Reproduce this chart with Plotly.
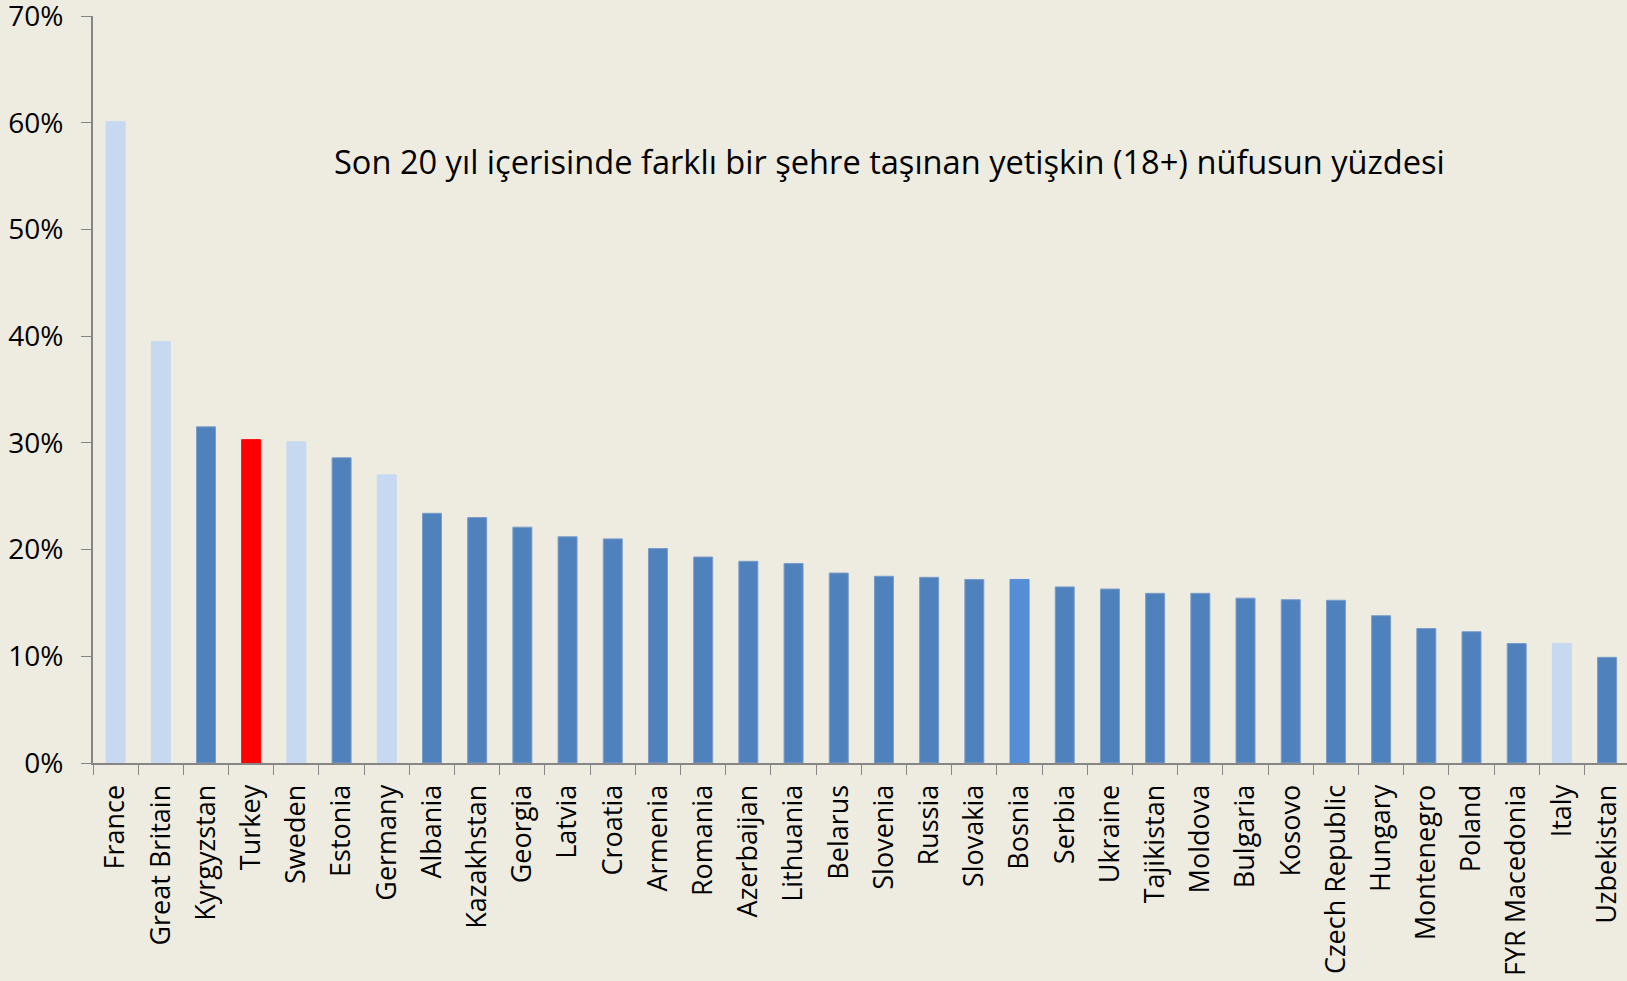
import plotly.graph_objects as go

countries = ["France", "Great Britain", "Kyrgyzstan", "Turkey", "Sweden", "Estonia", "Germany",
             "Albania", "Kazakhstan", "Georgia", "Latvia", "Croatia", "Armenia", "Romania",
             "Azerbaijan", "Lithuania", "Belarus", "Slovenia", "Russia", "Slovakia", "Bosnia",
             "Serbia", "Ukraine", "Tajikistan", "Moldova", "Bulgaria", "Kosovo", "Czech Republic",
             "Hungary", "Montenegro", "Poland", "FYR Macedonia", "Italy", "Uzbekistan"]
values = [60.1, 39.5, 31.5, 30.3, 30.1, 28.6, 27.0,
          23.4, 23.0, 22.1, 21.2, 21.0, 20.1, 19.3,
          18.9, 18.7, 17.8, 17.5, 17.4, 17.2, 17.2,
          16.5, 16.3, 15.9, 15.9, 15.45, 15.3, 15.25,
          13.8, 12.6, 12.3, 11.2, 11.2, 9.9]
# group of each bar: "west" (light), "east" (dark), "turkey" (red), "bosnia"
groups = ["west", "west", "east", "turkey", "west", "east", "west",
          "east", "east", "east", "east", "east", "east", "east",
          "east", "east", "east", "east", "east", "east", "bosnia",
          "east", "east", "east", "east", "east", "east", "east",
          "east", "east", "east", "east", "west", "east"]
y_ticks = [0, 10, 20, 30, 40, 50, 60, 70]
y_tick_labels = ["0%", "10%", "20%", "30%", "40%", "50%", "60%", "70%"]
title_text = "Son 20 yıl içerisinde farklı bir şehre taşınan yetişkin (18+) nüfusun yüzdesi"

palette = {"west": "#C6D9F0", "east": "#4F81BD", "turkey": "#FF0000", "bosnia": "#558ED5"}
outline = {"west": "#C6D9F0", "east": "#7A9CC8", "turkey": "#FF0000", "bosnia": "#558ED5"}

fig = go.Figure(go.Bar(
    x=countries, y=values,
    marker=dict(color=[palette[g] for g in groups],
                line=dict(color=[outline[g] for g in groups], width=1)),
    width=0.42,
))

W, H = 1627, 981
ML, MT, MB = 93, 16, 218
plot_w = W - ML
plot_h = H - MT - MB

font_family = "Open Sans"
fig.update_layout(
    width=W, height=H,
    margin=dict(l=ML, r=0, t=MT, b=MB),
    paper_bgcolor="#EEECE1", plot_bgcolor="#EEECE1",
    showlegend=False,
    font=dict(family=font_family, color="#000000"),
    annotations=[dict(text=title_text,
                      x=(889 - ML) / plot_w, y=(H - MB - 137) / plot_h,
                      xref="paper", yref="paper", showarrow=False,
                      font=dict(size=32.6, color="#000000", family=font_family))],
)

fig.update_xaxes(
    range=[-0.5, 33.44], tickangle=-90, tickson="boundaries", ticks="outside", ticklen=10,
    tickcolor="#868686", showline=True, linecolor="#868686", linewidth=2,
    tickfont=dict(size=27, color="#000000"), showgrid=False, ticklabelstandoff=9,
    automargin=False,
)
fig.update_yaxes(
    range=[0, 70], tickvals=y_ticks, ticktext=y_tick_labels, ticks="outside", ticklen=10,
    tickcolor="#868686", showline=True, linecolor="#868686", linewidth=2,
    tickfont=dict(size=28, color="#000000"), showgrid=False, zeroline=False,
    ticklabelstandoff=12, ticklabeloverflow="allow", automargin=False,
)

fig.write_html("out.html", config={"displayModeBar": False},
               post_script="document.body.style.margin='0';document.body.style.background='#EEECE1';")
